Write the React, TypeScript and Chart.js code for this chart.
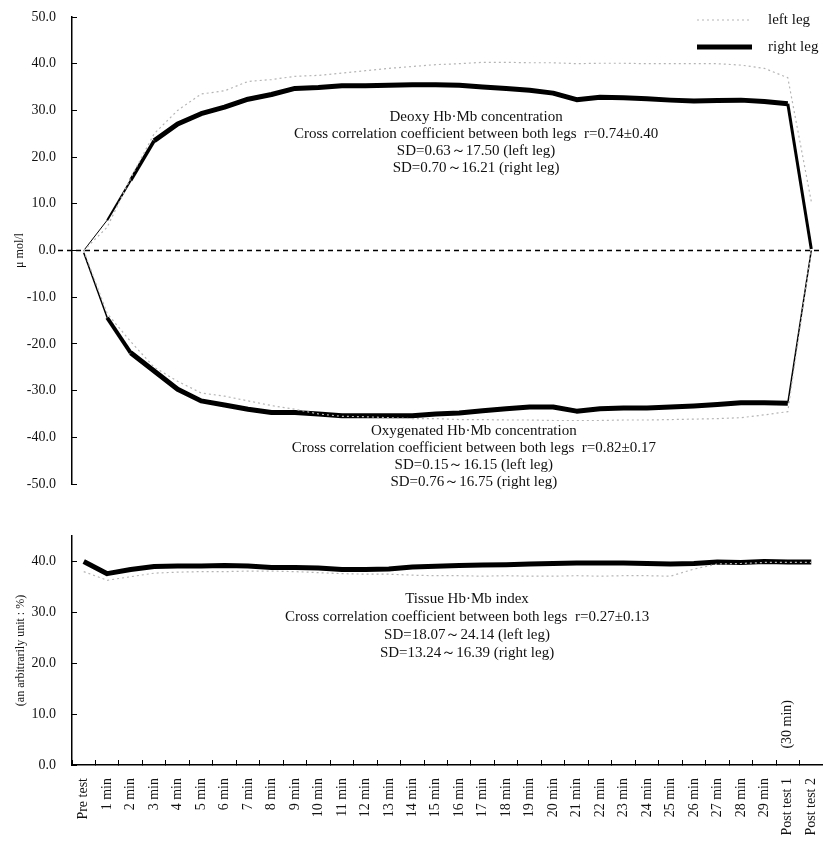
import React, { useEffect, useRef } from "react";
import { Chart, registerables } from "chart.js";
Chart.register(...registerables);

const FONT = "'Liberation Serif', 'Times New Roman', serif";

const categories = [
  "Pre test", "1 min", "2 min", "3 min", "4 min", "5 min", "6 min", "7 min", "8 min", "9 min",
  "10 min", "11 min", "12 min", "13 min", "14 min", "15 min", "16 min", "17 min", "18 min", "19 min",
  "20 min", "21 min", "22 min", "23 min", "24 min", "25 min", "26 min", "27 min", "28 min", "29 min",
  "Post test 1", "Post test 2",
];

const deoxyLeft = [0, 5, 15.5, 25, 30, 33.5, 34.2, 36.2, 36.6, 37.3, 37.5, 38, 38.5, 39, 39.4, 39.8, 40, 40.3, 40.3, 40.2, 40.2, 40, 40.1, 40.1, 40, 40, 40, 40, 39.7, 39, 37, 10.5];
const deoxyRight = [0, 6.5, 15, 23.5, 27.1, 29.3, 30.7, 32.4, 33.4, 34.7, 34.9, 35.3, 35.3, 35.4, 35.5, 35.5, 35.4, 35.0, 34.7, 34.3, 33.7, 32.3, 32.8, 32.7, 32.5, 32.2, 32.0, 32.1, 32.2, 31.9, 31.4, 0.3];
const oxyLeft = [0, -13.5, -19.5, -25, -28, -30.5, -31.2, -32.2, -33.2, -34, -35, -35.5, -35.6, -35.8, -36, -36, -36.2, -36.2, -36.3, -36.3, -36.4, -36.4, -36.4, -36.3, -36.3, -36.2, -36.1, -36, -35.8, -35.2, -34.5, 0];
const oxyRight = [-0.5, -14.4, -21.9, -25.8, -29.7, -32.2, -33.1, -34.0, -34.7, -34.7, -35.0, -35.4, -35.4, -35.4, -35.4, -35.0, -34.8, -34.3, -33.9, -33.5, -33.5, -34.4, -33.9, -33.7, -33.7, -33.5, -33.3, -33.0, -32.6, -32.6, -32.7, 0];
const tissueLeft = [38, 36.3, 37, 37.7, 37.9, 38, 38, 38.1, 38.1, 38, 37.8, 37.6, 37.5, 37.5, 37.3, 37.2, 37.2, 37.1, 37.2, 37.1, 37.1, 37.2, 37.1, 37.2, 37.2, 37.1, 38.5, 39.5, 39.6, 39.8, 39.8, 39.8];
const tissueRight = [40.0, 37.6, 38.4, 39.0, 39.1, 39.1, 39.2, 39.1, 38.8, 38.8, 38.7, 38.4, 38.4, 38.5, 38.9, 39.05, 39.2, 39.3, 39.35, 39.5, 39.6, 39.7, 39.7, 39.7, 39.6, 39.5, 39.6, 39.9, 39.8, 40.0, 39.9, 39.9];

const topTicks = [-50, -40, -30, -20, -10, 0, 10, 20, 30, 40, 50];
const bottomTicks = [0, 10, 20, 30, 40];

const seriesNames = ["left leg", "right leg"];
const topAxisTitle = "μ mol/l";
const bottomAxisTitle = "(an arbitrarily unit : %)";
const deoxyNotes = [
  "Deoxy Hb·Mb concentration",
  "Cross correlation coefficient between both legs  r=0.74±0.40",
  "SD=0.63～17.50 (left leg)",
  "SD=0.70～16.21 (right leg)",
];
const oxyNotes = [
  "Oxygenated Hb·Mb concentration",
  "Cross correlation coefficient between both legs  r=0.82±0.17",
  "SD=0.15～16.15 (left leg)",
  "SD=0.76～16.75 (right leg)",
];
const tissueNotes = [
  "Tissue Hb·Mb index",
  "Cross correlation coefficient between both legs  r=0.27±0.13",
  "SD=18.07～24.14 (left leg)",
  "SD=13.24～16.39 (right leg)",
];
const postNote = "(30 min)";

const LEFT_COLOR = "#b5b5b5";
const leftStyle = {
  borderColor: LEFT_COLOR,
  borderWidth: 1.2,
  borderDash: [2, 3],
  pointRadius: 0,
  tension: 0,
  fill: false,
};
const rightStyle = {
  borderColor: "#000",
  borderWidth: 5,
  pointRadius: 0,
  tension: 0,
  fill: false,
  borderJoinStyle: "round" as const,
};

function notesPlugin(id: string, lines: string[], xFrac: number, yValue: number, step: number) {
  return {
    id,
    afterDatasetsDraw(chart: any) {
      const { ctx, chartArea, scales } = chart;
      const cx = chartArea.left + (chartArea.right - chartArea.left) * xFrac;
      const y0 = scales.y.getPixelForValue(yValue);
      ctx.save();
      ctx.fillStyle = "#111";
      ctx.font = `15px ${FONT}`;
      ctx.textAlign = "center";
      ctx.textBaseline = "middle";
      lines.forEach((l, i) => ctx.fillText(l, cx, y0 + i * step));
      ctx.restore();
    },
  };
}

const zeroLinePlugin = {
  id: "zeroLine",
  beforeDatasetsDraw(chart: any) {
    const { ctx, chartArea, scales } = chart;
    const y = scales.y.getPixelForValue(0);
    ctx.save();
    ctx.setLineDash([5, 4]);
    ctx.lineWidth = 1.5;
    ctx.strokeStyle = "#000";
    ctx.beginPath();
    ctx.moveTo(chartArea.left - 14, y);
    ctx.lineTo(chartArea.right, y);
    ctx.stroke();
    ctx.restore();
  },
};

const legendPlugin = {
  id: "customLegend",
  afterDraw(chart: any) {
    const { ctx, chartArea } = chart;
    const ds = chart.data.datasets;
    const x0 = chartArea.right - 126;
    const x1 = chartArea.right - 71;
    const tx = chartArea.right - 55;
    const rows = [chartArea.top + 3, chartArea.top + 30];
    ctx.save();
    [0, 1].forEach((i) => {
      const d = ds[i];
      const y = rows[i];
      ctx.beginPath();
      ctx.strokeStyle = d.borderColor;
      ctx.lineWidth = d.borderWidth;
      ctx.setLineDash(d.borderDash || []);
      ctx.moveTo(x0, y);
      ctx.lineTo(x1, y);
      ctx.stroke();
      ctx.setLineDash([]);
      ctx.fillStyle = "#111";
      ctx.font = `15px ${FONT}`;
      ctx.textAlign = "left";
      ctx.textBaseline = "middle";
      ctx.fillText(d.label, tx, y);
    });
    ctx.restore();
  },
};

const postNotePlugin = {
  id: "postNote",
  afterDatasetsDraw(chart: any) {
    const { ctx, scales } = chart;
    const x = scales.x.getPixelForValue(30);
    const y = scales.y.getPixelForValue(8);
    ctx.save();
    ctx.translate(x, y);
    ctx.rotate(-Math.PI / 2);
    ctx.fillStyle = "#111";
    ctx.font = `14px ${FONT}`;
    ctx.textAlign = "center";
    ctx.textBaseline = "middle";
    ctx.fillText(postNote, 0, 0);
    ctx.restore();
  },
};

function yAxis(min: number, max: number, ticks: number[], title: string, titlePad: number) {
  return {
    min,
    max,
    afterBuildTicks: (s: any) => {
      s.ticks = ticks.map((v) => ({ value: v }));
    },
    afterFit: (s: any) => {
      s.width = 72;
      s.paddingTop = 0;
      s.paddingBottom = 0;
    },
    ticks: {
      callback: (v: any) => Number(v).toFixed(1),
      font: { family: FONT, size: 14 },
      color: "#111",
      padding: 21,
    },
    grid: { display: true, drawOnChartArea: false, drawTicks: true, tickLength: -5, color: "#000", lineWidth: 1 },
    border: { display: true, color: "#000", width: 1.5 },
    title: {
      display: true,
      text: title,
      font: { family: FONT, size: 12 },
      color: "#111",
      padding: { top: titlePad, bottom: 0 },
    },
  };
}

export default function App() {
  const topRef = useRef<HTMLCanvasElement>(null);
  const botRef = useRef<HTMLCanvasElement>(null);

  useEffect(() => {
    const deoxyWidth = (c: any) => {
      const i = c.p0DataIndex;
      if (i === 0) return 1;
      if (i === 1) return 2;
      if (i === 2) return 3.5;
      if (i === 30) return 3;
      return 5;
    };
    const oxyWidth = (c: any) => {
      const i = c.p0DataIndex;
      if (i === 0) return 1.5;
      if (i === 1) return 4;
      if (i === 30) return 1.5;
      return 5;
    };

    const top = new Chart(topRef.current as HTMLCanvasElement, {
      type: "line",
      data: {
        labels: categories,
        datasets: [
          { label: seriesNames[0], data: deoxyLeft, ...leftStyle },
          { label: seriesNames[1], data: deoxyRight, ...rightStyle, segment: { borderWidth: deoxyWidth } },
          { label: seriesNames[0], data: oxyLeft, ...leftStyle },
          { label: seriesNames[1], data: oxyRight, ...rightStyle, segment: { borderWidth: oxyWidth } },
        ] as any,
      },
      options: {
        responsive: false,
        animation: false,
        devicePixelRatio: 1,
        layout: { padding: { top: 17, bottom: 16, left: 0, right: 0 } },
        plugins: { legend: { display: false }, tooltip: { enabled: false } },
        scales: {
          x: { type: "category", display: false, offset: true },
          y: yAxis(-50, 50, topTicks, topAxisTitle, 13) as any,
        },
      },
      plugins: [
        zeroLinePlugin,
        legendPlugin,
        notesPlugin("deoxyNotes", deoxyNotes, 0.538, 28.6, 17),
        notesPlugin("oxyNotes", oxyNotes, 0.535, -38.6, 17),
      ],
    });

    const bot = new Chart(botRef.current as HTMLCanvasElement, {
      type: "line",
      data: {
        labels: categories,
        datasets: [
          { label: seriesNames[0], data: tissueLeft, ...leftStyle },
          { label: seriesNames[1], data: tissueRight, ...rightStyle },
        ] as any,
      },
      options: {
        responsive: false,
        animation: false,
        devicePixelRatio: 1,
        layout: { padding: { top: 36, bottom: 0, left: 0, right: 0 } },
        plugins: { legend: { display: false }, tooltip: { enabled: false } },
        scales: {
          x: {
            type: "category",
            offset: true,
            afterFit: (s: any) => {
              s.height = 81;
              s.paddingLeft = 0;
              s.paddingRight = 0;
            },
            grid: { display: true, drawOnChartArea: false, offset: true, drawTicks: true, tickLength: -5, color: "#000" },
            border: { display: true, color: "#000", width: 1.5 },
            ticks: {
              autoSkip: false,
              minRotation: 90,
              maxRotation: 90,
              font: { family: FONT, size: 14 },
              color: "#111",
              padding: 18,
            },
          } as any,
          y: yAxis(0, 45, bottomTicks, bottomAxisTitle, 14) as any,
        },
      },
      plugins: [notesPlugin("tissueNotes", tissueNotes, 0.526, 32.7, 18), postNotePlugin],
    });

    return () => {
      top.destroy();
      bot.destroy();
    };
  }, []);

  return (
    <div style={{ position: "fixed", left: 0, top: 0, width: 823, height: 846, background: "#fff" }}>
      <canvas
        ref={topRef}
        width={823}
        height={500}
        style={{ position: "absolute", left: 0, top: 0, width: 823, height: 500 }}
      />
      <canvas
        ref={botRef}
        width={823}
        height={346}
        style={{ position: "absolute", left: 0, top: 500, width: 823, height: 346 }}
      />
    </div>
  );
}
